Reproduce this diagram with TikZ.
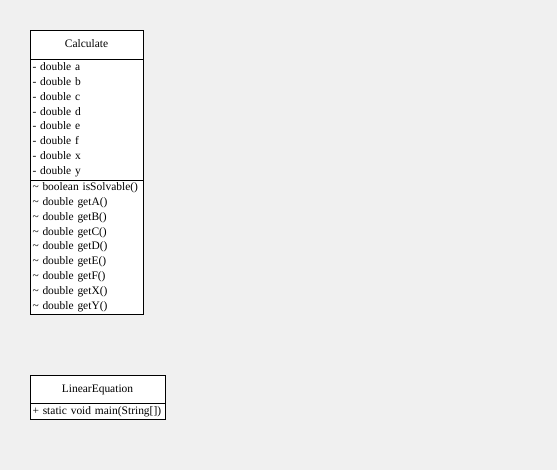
\documentclass[tikz,border=0pt]{standalone}
\usepackage{fontspec}
\setmainfont{Liberation Serif}
\definecolor{bgcol}{HTML}{F0F0F0}
\tikzset{
  umlbox/.style={draw=black, line width=0.8bp, fill=white, anchor=north west, inner sep=0pt, outer sep=0pt},
  umlhead/.style={umlbox, font=\fontsize{11.5}{15}\selectfont, align=center, text height=8bp, text depth=2.5bp},
  umlbody/.style={umlbox, font=\fontsize{11.5}{15}\selectfont, align=left, text width=#1, inner xsep=2.5bp},
}
\begin{document}
\begin{tikzpicture}[x=1bp,y=-1bp]
\fill[bgcol] (0,0) rectangle (557,470);
\useasboundingbox (0,0) rectangle (557,470);
% Calculate
\node[umlhead, minimum width=113bp, minimum height=29.5bp] (calchead) at (30,30) {Calculate};
\node[umlbody=108bp, minimum width=113bp, minimum height=120.5bp] (calcattr) at (calchead.south west)
 {- double a\\- double b\\- double c\\- double d\\- double e\\- double f\\- double x\\- double y};
\node[umlbody=108bp, minimum width=113bp, minimum height=134.5bp] (calcmeth) at (calcattr.south west)
 {\textasciitilde{} boolean isSolvable()\\\textasciitilde{} double getA()\\\textasciitilde{} double getB()\\\textasciitilde{} double getC()\\\textasciitilde{} double getD()\\\textasciitilde{} double getE()\\\textasciitilde{} double getF()\\\textasciitilde{} double getX()\\\textasciitilde{} double getY()};
% LinearEquation
\node[umlhead, minimum width=135bp, minimum height=28.5bp] (linhead) at (30,375) {LinearEquation};
\node[umlbody=130bp, minimum width=135bp, minimum height=16bp] (linmeth) at (linhead.south west)
 {+ static void main(String[])};
\end{tikzpicture}
\end{document}
